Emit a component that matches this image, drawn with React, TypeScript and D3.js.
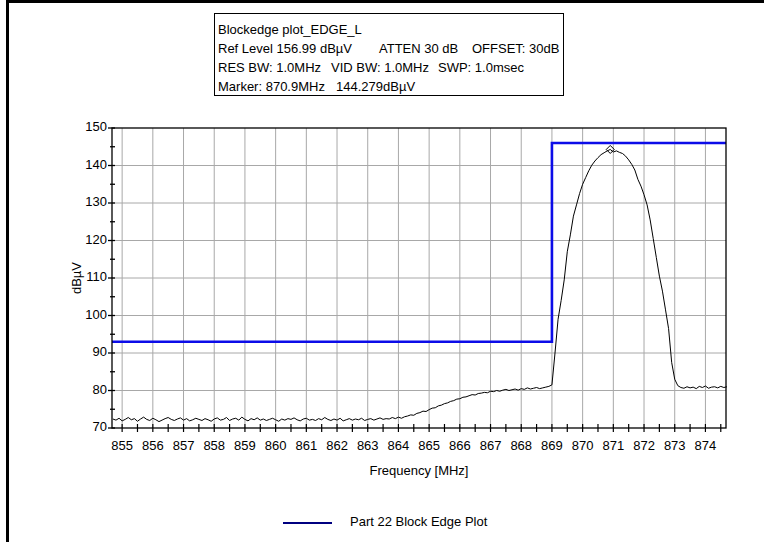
import React from "react";
import * as d3 from "d3";

// Sweep settings: first frequency and step of the measured trace (MHz)
const sweepStart = 854.7;
const sweepStep = 0.1;

// Measured level (dBµV), one value per sweep point from 854.7 to 874.7 MHz
const traceLevels = [
  72.4, 72.1, 72.6, 71.9, 72.3, 72.8, 72.2, 72.5, 71.8, 72.4,
  72.9, 72.3, 72.0, 72.6, 72.2, 71.7, 72.1, 72.5, 72.8, 72.3,
  72.0, 72.4, 72.7, 72.1, 72.5, 71.9, 72.2, 72.6, 72.3, 72.0,
  72.5, 72.2, 71.8, 72.4, 72.7, 72.1, 72.3, 72.8, 72.0, 72.4,
  72.6, 72.1, 72.9, 72.3, 71.9, 72.5, 72.2, 72.7, 72.1, 72.4,
  72.0, 72.3, 72.6, 72.2, 71.8, 72.4, 72.1, 72.5, 72.3, 72.7,
  72.2, 71.9, 72.4, 72.6, 72.1, 72.3, 72.0, 72.5, 72.2, 72.8,
  72.3, 72.0, 72.4, 72.1, 72.6, 71.9, 72.2, 72.5, 72.1, 72.4,
  72.2, 72.6, 72.0, 72.3, 72.5, 72.1, 72.4, 72.7, 72.3, 72.5,
  72.4, 72.8, 72.5, 72.9, 72.6, 73.0, 73.2, 73.5, 73.4, 73.9,
  74.1, 74.5, 74.4, 74.9, 75.3, 75.4, 75.9, 76.1, 76.5, 76.7,
  77.1, 77.3, 77.7, 77.8, 78.2, 78.3, 78.6, 78.9, 78.8, 79.2,
  79.3, 79.5, 79.4, 79.8, 79.7, 80.0, 79.8, 80.1, 80.3, 80.0,
  80.2, 80.4, 80.1, 80.5, 80.3, 80.7, 80.4, 80.6, 80.8, 80.5,
  80.7, 80.9, 81.1, 81.5, 90.0, 99.0, 104.0, 109.5, 117.0, 121.5,
  126.5, 129.5, 132.5, 135.0, 136.8, 138.6, 140.1, 141.2, 142.1, 142.9,
  143.4, 143.9, 144.279, 143.6, 143.9, 143.5, 143.2, 142.5, 141.5, 140.3,
  138.8, 136.3, 134.5, 132.2, 129.5, 125.5, 120.5, 115.5, 110.5, 106.5,
  101.5, 96.5, 87.5, 83.0, 81.3, 80.8, 80.6, 81.0, 80.7, 80.9,
  80.5, 81.1, 80.8, 81.2, 80.6, 80.9, 81.0, 80.7, 81.1, 80.8,
  81.0,
];

// Part 22 block edge limit line
const limitFreqs = [854.67, 869, 869, 874.67];
const limitLevels = [93, 93, 146, 146];

// Marker
const markerFreq = 870.9;
const markerLevel = 144.279;

// Axis settings
const freqDomain = [854.67, 874.67];
const levelDomain = [70, 150];
const freqTicks = d3.range(855, 875, 1);
const freqMinorTicks = d3.range(855, 875, 0.5);
const levelTicks = d3.range(70, 151, 10);
const levelMinorTicks = d3.range(75, 150, 10);

// Header lines
const headerLines = [
  [{ text: "Blockedge plot_EDGE_L", x: 218 }],
  [
    { text: "Ref Level 156.99 dBµV", x: 218 },
    { text: "ATTEN 30 dB", x: 379 },
    { text: "OFFSET: 30dB", x: 472 },
  ],
  [
    { text: "RES BW: 1.0MHz", x: 218 },
    { text: "VID BW: 1.0MHz", x: 331 },
    { text: "SWP: 1.0msec", x: 438 },
  ],
  [
    { text: "Marker: 870.9MHz", x: 218 },
    { text: "144.279dBµV", x: 336 },
  ],
];

const legendLabel = "Part 22 Block Edge Plot";

const W = 764;
const H = 543;
const plot = { left: 112, right: 726, top: 128, bottom: 428 };
const FONT = "'Liberation Sans', Arial, sans-serif";

export default function App() {
  const x = d3.scaleLinear().domain(freqDomain).range([plot.left, plot.right]);
  const y = d3.scaleLinear().domain(levelDomain).range([plot.bottom, plot.top]);

  const traceLine = d3
    .line<number>()
    .x((_, i) => x(sweepStart + i * sweepStep))
    .y((d) => y(d));

  const limitLine = d3
    .line<number>()
    .x((_, i) => x(limitFreqs[i]))
    .y((d) => y(d));

  const mx = x(markerFreq);
  const my = y(markerLevel);

  return (
    <svg
      width={W}
      height={H}
      style={{ position: "absolute", left: 0, top: 0, background: "#fff" }}
      fontFamily={FONT}
    >
      <rect x={0} y={0} width={W} height={H} fill="#fff" />
      {/* window frame */}
      <rect x={6} y={0} width={W - 6} height={3} fill="#000" />
      <rect x={6} y={0} width={3} height={H - 1} fill="#000" />

      {/* header box */}
      <rect x={214.5} y={13.5} width={349} height={82} fill="#fff" stroke="#000" strokeWidth={1} />
      {headerLines.map((line, li) =>
        line.map((t, ti) => (
          <text
            key={`${li}-${ti}`}
            x={t.x}
            y={31 + li * 18.8}
            fontSize={13}
            dominantBaseline="middle"
            fill="#000"
          >
            {t.text}
          </text>
        ))
      )}

      {/* grid */}
      {freqTicks.map((f) => (
        <line key={`gx${f}`} x1={x(f)} x2={x(f)} y1={plot.top} y2={plot.bottom} stroke="#a8a8a8" strokeWidth={1} />
      ))}
      {levelTicks.slice(1, -1).map((v) => (
        <line key={`gy${v}`} x1={plot.left} x2={plot.right} y1={y(v)} y2={y(v)} stroke="#a8a8a8" strokeWidth={1} />
      ))}

      {/* limit line */}
      <path d={limitLine(limitLevels) || ""} fill="none" stroke="#0c0ce8" strokeWidth={2.6} />

      {/* measured trace */}
      <path d={traceLine(traceLevels) || ""} fill="none" stroke="#000" strokeWidth={1} strokeLinejoin="round" />

      {/* marker */}
      <path
        d={`M${mx},${my - 4} L${mx + 4},${my} L${mx},${my + 4} L${mx - 4},${my} Z`}
        fill="none"
        stroke="#000"
        strokeWidth={1}
      />

      {/* plot frame */}
      <rect
        x={plot.left}
        y={plot.top}
        width={plot.right - plot.left}
        height={plot.bottom - plot.top}
        fill="none"
        stroke="#000"
        strokeWidth={1.3}
      />

      {/* y axis ticks and labels */}
      {levelTicks.map((v) => (
        <g key={`yt${v}`}>
          <line x1={plot.left - 4} x2={plot.left + 3} y1={y(v)} y2={y(v)} stroke="#000" strokeWidth={1.3} />
          <text x={plot.left - 5} y={y(v)} fontSize={13} textAnchor="end" dominantBaseline="middle" fill="#000">
            {v}
          </text>
        </g>
      ))}
      {levelMinorTicks.map((v) => (
        <line key={`ym${v}`} x1={plot.left - 2} x2={plot.left + 3} y1={y(v)} y2={y(v)} stroke="#000" strokeWidth={1.3} />
      ))}

      {/* x axis ticks and labels */}
      {freqMinorTicks.map((f) => (
        <line key={`xm${f}`} x1={x(f)} x2={x(f)} y1={plot.bottom - 4} y2={plot.bottom + 4} stroke="#000" strokeWidth={1.2} />
      ))}
      {freqTicks.map((f) => (
        <text key={`xl${f}`} x={x(f)} y={plot.bottom + 19} fontSize={13} textAnchor="middle" dominantBaseline="middle" fill="#000">
          {f}
        </text>
      ))}

      {/* axis titles */}
      <text
        x={(plot.left + plot.right) / 2}
        y={472}
        fontSize={13}
        textAnchor="middle"
        dominantBaseline="middle"
        fill="#000"
      >
        Frequency [MHz]
      </text>
      <text
        transform={`translate(78, ${(plot.top + plot.bottom) / 2}) rotate(-90)`}
        fontSize={13}
        textAnchor="middle"
        dominantBaseline="middle"
        fill="#000"
      >
        dBµV
      </text>

      {/* legend */}
      <line x1={283} x2={332} y1={523} y2={523} stroke="#000080" strokeWidth={2} />
      <text x={350} y={523} fontSize={13} dominantBaseline="middle" fill="#000">
        {legendLabel}
      </text>
    </svg>
  );
}
